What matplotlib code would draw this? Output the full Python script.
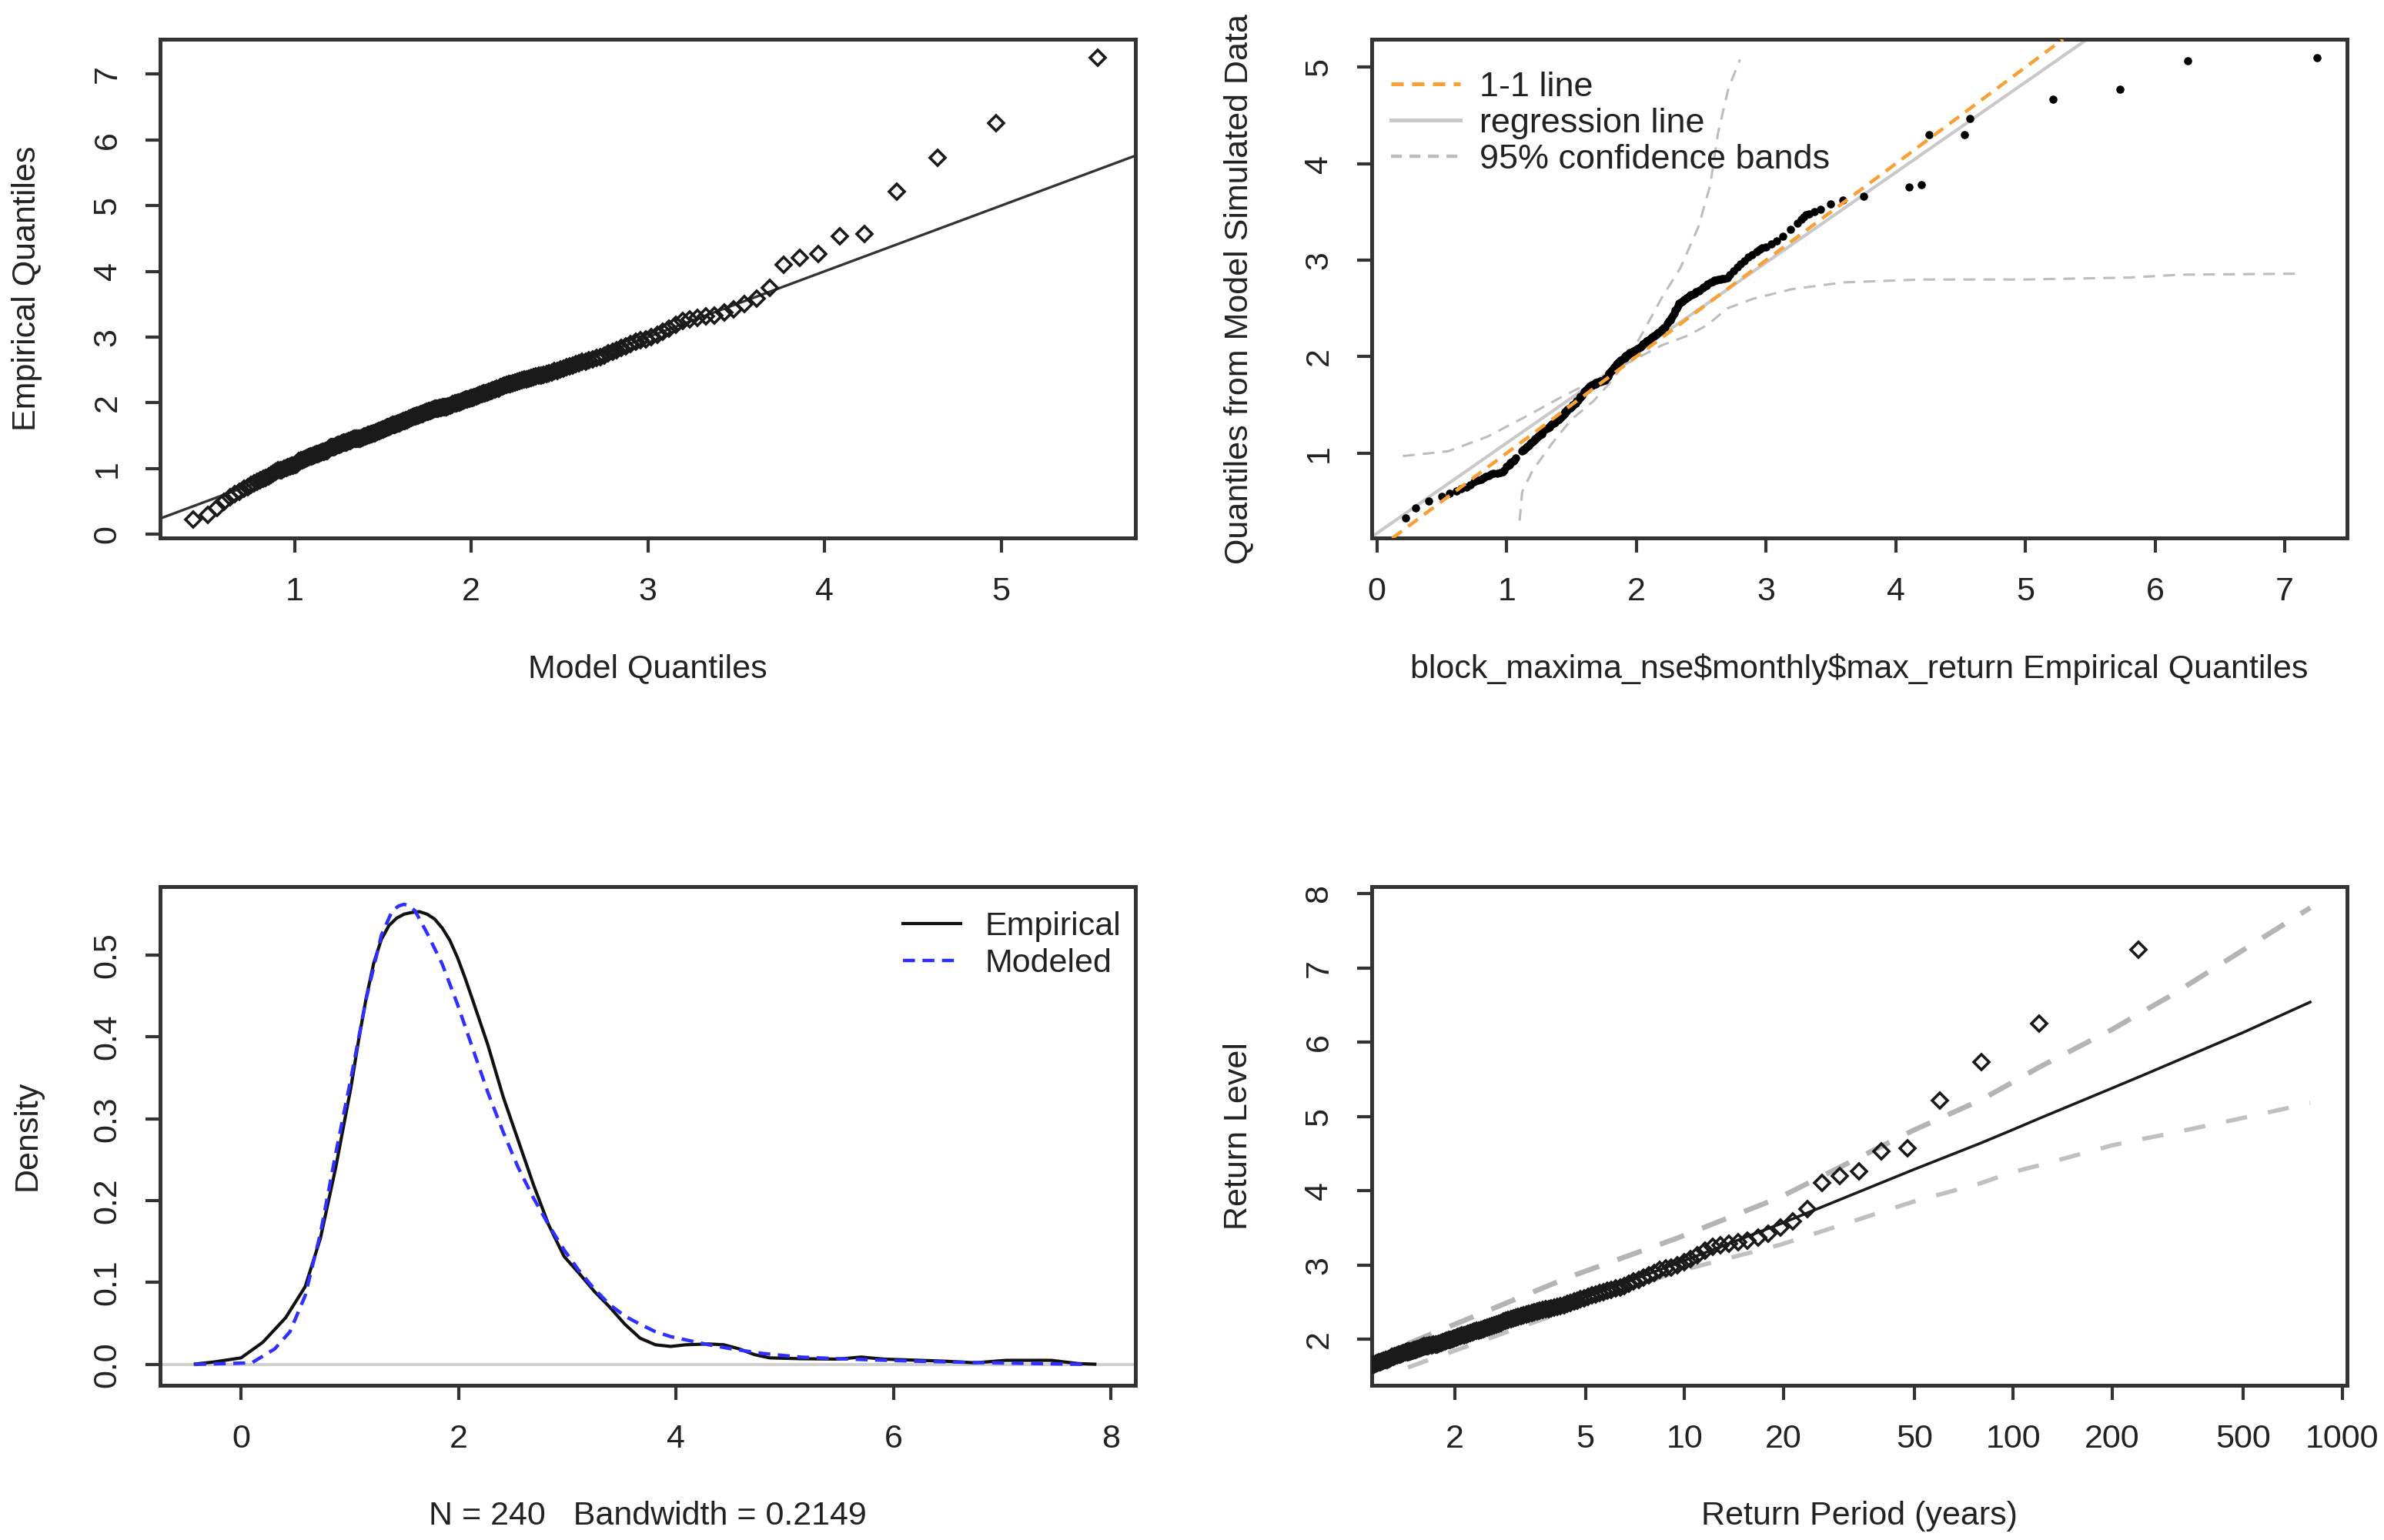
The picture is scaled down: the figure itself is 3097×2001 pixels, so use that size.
import matplotlib
matplotlib.use('Agg')
import matplotlib.pyplot as plt
from matplotlib.lines import Line2D
from matplotlib.ticker import FixedLocator, NullLocator, FixedFormatter

plt.rcParams['font.family'] = ['Liberation Sans', 'DejaVu Sans']
FS = 15.5
TXT = '#222222'
FRAME = '#333333'
PT = '#1a1a1a'

# ---------------- data ----------------
# model (GEV) quantiles, ranks 1..240
model_q = [
    0.428, 0.508, 0.561, 0.602, 0.635, 0.664, 0.690, 0.713, 0.735, 0.755,
    0.773, 0.790, 0.807, 0.823, 0.838, 0.852, 0.866, 0.880, 0.893, 0.905,
    0.917, 0.929, 0.941, 0.952, 0.963, 0.974, 0.985, 0.995, 1.005, 1.015,
    1.025, 1.035, 1.044, 1.054, 1.063, 1.072, 1.081, 1.090, 1.099, 1.108,
    1.117, 1.125, 1.134, 1.142, 1.150, 1.159, 1.167, 1.175, 1.183, 1.191,
    1.199, 1.207, 1.215, 1.223, 1.231, 1.239, 1.246, 1.254, 1.262, 1.269,
    1.277, 1.284, 1.292, 1.299, 1.307, 1.314, 1.322, 1.329, 1.337, 1.344,
    1.351, 1.359, 1.366, 1.373, 1.380, 1.388, 1.395, 1.402, 1.410, 1.417,
    1.424, 1.432, 1.439, 1.446, 1.453, 1.461, 1.468, 1.475, 1.483, 1.490,
    1.497, 1.504, 1.512, 1.519, 1.526, 1.534, 1.541, 1.548, 1.556, 1.563,
    1.570, 1.578, 1.585, 1.593, 1.600, 1.608, 1.615, 1.623, 1.630, 1.638,
    1.645, 1.653, 1.660, 1.668, 1.676, 1.684, 1.691, 1.699, 1.707, 1.715,
    1.723, 1.730, 1.738, 1.746, 1.754, 1.762, 1.770, 1.779, 1.787, 1.795,
    1.803, 1.812, 1.820, 1.828, 1.837, 1.845, 1.854, 1.862, 1.871, 1.880,
    1.889, 1.897, 1.906, 1.915, 1.924, 1.933, 1.943, 1.952, 1.961, 1.970,
    1.980, 1.989, 1.999, 2.009, 2.018, 2.028, 2.038, 2.048, 2.059, 2.069,
    2.079, 2.090, 2.100, 2.111, 2.122, 2.133, 2.144, 2.155, 2.166, 2.177,
    2.189, 2.200, 2.212, 2.224, 2.236, 2.249, 2.261, 2.274, 2.286, 2.299,
    2.312, 2.326, 2.339, 2.353, 2.367, 2.381, 2.395, 2.410, 2.425, 2.440,
    2.456, 2.472, 2.488, 2.504, 2.521, 2.538, 2.556, 2.573, 2.591, 2.610,
    2.629, 2.649, 2.668, 2.689, 2.710, 2.732, 2.754, 2.777, 2.800, 2.824,
    2.850, 2.875, 2.902, 2.930, 2.958, 2.988, 3.019, 3.052, 3.086, 3.121,
    3.158, 3.197, 3.239, 3.281, 3.328, 3.377, 3.431, 3.486, 3.548, 3.615,
    3.688, 3.769, 3.860, 3.965, 4.086, 4.228, 4.408, 4.639, 4.970, 5.545,
]

# empirical (sorted block maxima), ranks 1..240
emp = [
    0.22, 0.30, 0.40, 0.50, 0.56, 0.61, 0.65, 0.69, 0.72, 0.75,
    0.78, 0.80, 0.82, 0.84, 0.86, 0.88, 0.90, 0.93, 0.95, 0.97,
    0.97, 0.98, 1.00, 1.01, 1.02, 1.03, 1.04, 1.05, 1.06, 1.07,
    1.12, 1.13, 1.13, 1.14, 1.15, 1.16, 1.17, 1.18, 1.19, 1.20,
    1.21, 1.22, 1.22, 1.23, 1.24, 1.25, 1.26, 1.27, 1.27, 1.28,
    1.31, 1.32, 1.33, 1.33, 1.34, 1.35, 1.36, 1.36, 1.37, 1.38,
    1.39, 1.39, 1.40, 1.41, 1.42, 1.42, 1.43, 1.44, 1.45, 1.45,
    1.45, 1.45, 1.46, 1.46, 1.47, 1.48, 1.49, 1.49, 1.50, 1.51,
    1.51, 1.52, 1.53, 1.54, 1.54, 1.55, 1.56, 1.57, 1.57, 1.58,
    1.60, 1.60, 1.61, 1.62, 1.63, 1.63, 1.64, 1.65, 1.66, 1.66,
    1.67, 1.68, 1.69, 1.69, 1.70, 1.71, 1.72, 1.72, 1.73, 1.74,
    1.76, 1.76, 1.77, 1.78, 1.79, 1.79, 1.80, 1.81, 1.82, 1.83,
    1.83, 1.84, 1.85, 1.86, 1.86, 1.87, 1.88, 1.89, 1.90, 1.91,
    1.91, 1.91, 1.92, 1.92, 1.93, 1.93, 1.93, 1.94, 1.95, 1.96,
    1.97, 1.98, 1.99, 1.99, 2.00, 2.01, 2.02, 2.03, 2.04, 2.05,
    2.05, 2.06, 2.07, 2.08, 2.09, 2.10, 2.11, 2.12, 2.13, 2.14,
    2.15, 2.16, 2.17, 2.18, 2.19, 2.20, 2.21, 2.22, 2.24, 2.25,
    2.26, 2.27, 2.28, 2.29, 2.30, 2.31, 2.32, 2.33, 2.34, 2.35,
    2.36, 2.37, 2.38, 2.39, 2.40, 2.41, 2.42, 2.43, 2.44, 2.45,
    2.46, 2.48, 2.49, 2.51, 2.52, 2.54, 2.55, 2.57, 2.59, 2.60,
    2.62, 2.63, 2.65, 2.66, 2.68, 2.70, 2.72, 2.75, 2.78, 2.80,
    2.83, 2.86, 2.89, 2.93, 2.95, 2.97, 3.00, 3.04, 3.08, 3.13,
    3.19, 3.24, 3.27, 3.29, 3.31, 3.33, 3.37, 3.42, 3.50, 3.59,
    3.75, 4.10, 4.20, 4.26, 4.53, 4.57, 5.21, 5.73, 6.25, 7.25,
]

# quantiles of data simulated from the fitted model, ranks 1..240
sim_q = [
    0.33, 0.43, 0.50, 0.55, 0.58, 0.61, 0.63, 0.65, 0.67, 0.70,
    0.72, 0.73, 0.74, 0.76, 0.77, 0.78, 0.79, 0.79, 0.80, 0.81,
    0.81, 0.82, 0.86, 0.87, 0.88, 0.90, 0.91, 0.92, 0.93, 0.95,
    1.02, 1.03, 1.04, 1.05, 1.06, 1.07, 1.08, 1.10, 1.11, 1.12,
    1.13, 1.14, 1.15, 1.16, 1.17, 1.18, 1.19, 1.20, 1.21, 1.22,
    1.25, 1.26, 1.27, 1.28, 1.29, 1.30, 1.31, 1.31, 1.32, 1.33,
    1.34, 1.34, 1.35, 1.36, 1.37, 1.38, 1.39, 1.40, 1.41, 1.42,
    1.42, 1.43, 1.44, 1.44, 1.45, 1.46, 1.47, 1.47, 1.48, 1.49,
    1.50, 1.51, 1.52, 1.53, 1.54, 1.55, 1.57, 1.58, 1.59, 1.60,
    1.64, 1.64, 1.65, 1.66, 1.67, 1.68, 1.69, 1.70, 1.70, 1.71,
    1.71, 1.72, 1.72, 1.73, 1.73, 1.74, 1.74, 1.75, 1.75, 1.75,
    1.76, 1.77, 1.78, 1.80, 1.82, 1.83, 1.84, 1.86, 1.87, 1.89,
    1.89, 1.90, 1.92, 1.93, 1.94, 1.95, 1.96, 1.97, 1.98, 1.99,
    1.99, 2.00, 2.00, 2.01, 2.01, 2.02, 2.02, 2.03, 2.04, 2.04,
    2.05, 2.06, 2.06, 2.07, 2.07, 2.08, 2.09, 2.10, 2.11, 2.12,
    2.13, 2.14, 2.15, 2.16, 2.17, 2.18, 2.19, 2.20, 2.21, 2.22,
    2.23, 2.24, 2.25, 2.26, 2.27, 2.28, 2.30, 2.31, 2.35, 2.37,
    2.38, 2.40, 2.43, 2.45, 2.48, 2.50, 2.53, 2.55, 2.56, 2.57,
    2.58, 2.59, 2.60, 2.61, 2.62, 2.63, 2.64, 2.64, 2.65, 2.66,
    2.67, 2.68, 2.69, 2.71, 2.72, 2.74, 2.75, 2.77, 2.78, 2.79,
    2.79, 2.80, 2.80, 2.81, 2.81, 2.82, 2.85, 2.89, 2.93, 2.96,
    2.99, 3.03, 3.06, 3.09, 3.11, 3.13, 3.14, 3.17, 3.20, 3.25,
    3.32, 3.38, 3.42, 3.45, 3.47, 3.48, 3.50, 3.53, 3.58, 3.62,
    3.66, 3.76, 3.78, 4.30, 4.30, 4.47, 4.67, 4.77, 5.07, 5.10,
]

# return periods (years) of the empirical points with rank 99..240
rl_period = [
    1.124, 1.137, 1.150, 1.163, 1.176, 1.190, 1.204, 1.217, 1.232, 1.246,
    1.260, 1.275, 1.290, 1.305, 1.320, 1.336, 1.352, 1.368, 1.384, 1.400,
    1.417, 1.434, 1.451, 1.469, 1.487, 1.505, 1.523, 1.542, 1.561, 1.580,
    1.600, 1.620, 1.640, 1.661, 1.682, 1.704, 1.726, 1.748, 1.771, 1.794,
    1.817, 1.841, 1.866, 1.890, 1.916, 1.942, 1.968, 1.995, 2.023, 2.051,
    2.079, 2.109, 2.139, 2.170, 2.201, 2.233, 2.266, 2.299, 2.333, 2.369,
    2.404, 2.441, 2.479, 2.518, 2.558, 2.598, 2.639, 2.682, 2.726, 2.772,
    2.818, 2.865, 2.915, 2.965, 3.017, 3.070, 3.125, 3.182, 3.239, 3.300,
    3.362, 3.427, 3.493, 3.561, 3.632, 3.705, 3.782, 3.859, 3.942, 4.026,
    4.114, 4.205, 4.301, 4.399, 4.502, 4.610, 4.721, 4.838, 4.960, 5.089,
    5.222, 5.362, 5.510, 5.666, 5.828, 5.999, 6.180, 6.373, 6.575, 6.789,
    7.018, 7.262, 7.524, 7.800, 8.097, 8.418, 8.757, 9.132, 9.533, 9.970,
    10.45, 10.96, 11.55, 12.18, 12.89, 13.66, 14.56, 15.55, 16.72, 18.02,
    19.57, 21.41, 23.60, 26.27, 29.62, 33.93, 39.66, 47.70, 59.75, 79.83,
    120.0, 240.5,
]

# QQ reference line (top-left)
qq_intercept, qq_slope = 0.0, 1.0
# top-right lines
one_to_one = (0.0, 1.0)
reg_intercept, reg_slope = 0.17, 0.935
band_a_x = [1.10, 1.12, 1.20, 1.35, 1.50, 1.67, 1.79, 1.92, 2.05, 2.20, 2.34, 2.48, 2.57, 2.63, 2.71, 2.80]
band_a_y = [0.30, 0.60, 0.82, 1.10, 1.35, 1.54, 1.72, 1.95, 2.25, 2.62, 2.92, 3.35, 3.78, 4.32, 4.78, 5.08]
band_b_x = [0.20, 0.55, 0.85, 1.15, 1.42, 1.70, 1.97, 2.20, 2.40, 2.55, 2.70, 2.90, 3.20, 3.60, 4.20, 5.00, 5.80, 6.20, 7.10]
band_b_y = [0.97, 1.02, 1.17, 1.38, 1.58, 1.77, 1.96, 2.12, 2.22, 2.33, 2.50, 2.60, 2.70, 2.77, 2.80, 2.80, 2.82, 2.85, 2.86]

# density curves (bottom-left)
dens_emp_x = [-0.42, -0.25, 0.0, 0.2, 0.41, 0.59, 0.73, 0.87, 1.01, 1.08, 1.15, 1.22, 1.29,
              1.36, 1.43, 1.50, 1.57, 1.64, 1.71, 1.78, 1.85, 1.92, 1.99, 2.06, 2.13, 2.27,
              2.41, 2.55, 2.69, 2.83, 2.97, 3.11, 3.25, 3.39, 3.53, 3.67, 3.81, 3.95, 4.09,
              4.30, 4.44, 4.58, 4.72, 4.86, 5.14, 5.49, 5.70, 5.91, 6.47, 6.75, 7.03, 7.45,
              7.70, 7.85]
dens_emp_y = [0.0005, 0.003, 0.008, 0.027, 0.057, 0.095, 0.154, 0.240, 0.338, 0.395, 0.447,
              0.490, 0.519, 0.536, 0.545, 0.550, 0.552, 0.553, 0.550, 0.544, 0.533, 0.518,
              0.497, 0.472, 0.445, 0.390, 0.327, 0.273, 0.219, 0.170, 0.132, 0.111, 0.089,
              0.070, 0.049, 0.032, 0.024, 0.022, 0.024, 0.025, 0.024, 0.019, 0.012, 0.008,
              0.007, 0.0065, 0.009, 0.0065, 0.004, 0.002, 0.005, 0.005, 0.001, 0.0003]
dens_mod_x = [-0.43, 0.10, 0.31, 0.45, 0.59, 0.73, 0.87, 1.01, 1.15, 1.29, 1.39, 1.45, 1.50,
              1.55, 1.60, 1.71, 1.85, 1.99, 2.13, 2.27, 2.41, 2.55, 2.69, 2.83, 2.97, 3.11,
              3.25, 3.39, 3.53, 3.67, 3.81, 3.95, 4.09, 4.30, 4.51, 4.79, 5.14, 5.49, 5.84,
              6.19, 6.89, 7.80]
dens_mod_y = [0.0, 0.002, 0.019, 0.040, 0.084, 0.160, 0.257, 0.349, 0.446, 0.524, 0.554,
              0.560, 0.562, 0.560, 0.554, 0.527, 0.489, 0.440, 0.386, 0.332, 0.284, 0.240,
              0.203, 0.170, 0.140, 0.114, 0.092, 0.073, 0.059, 0.049, 0.040, 0.034, 0.030,
              0.024, 0.019, 0.0135, 0.009, 0.007, 0.0054, 0.004, 0.002, 0.0]

# return level curve and 95% CI (bottom-right)
rl_line_x = [1.443, 4.481, 9.491, 19.50, 49.50, 79.50, 99.50, 119.5, 199.5, 249.5, 299.5, 499.5, 799.5]
rl_line_y = [1.72, 2.49, 3.02, 3.55, 4.28, 4.64, 4.82, 4.97, 5.38, 5.56, 5.71, 6.13, 6.54]
rl_upper_y = [1.94, 2.84, 3.36, 3.91, 4.81, 5.22, 5.46, 5.66, 6.17, 6.42, 6.62, 7.24, 7.81]
rl_lower_y = [1.62, 2.40, 2.91, 3.27, 3.85, 4.10, 4.25, 4.34, 4.61, 4.70, 4.77, 4.98, 5.18]

# ---------------- figure ----------------
fig = plt.figure(figsize=(3097 / 200, 2001 / 200), dpi=200)
W, H = 0.4091, 0.3240
ax1 = fig.add_axes([0.0672, 0.6505, W, H])
ax2 = fig.add_axes([0.5754, 0.6505, W, H])
ax3 = fig.add_axes([0.0672, 0.1005, W, H])
ax4 = fig.add_axes([0.5754, 0.1005, W, H])


def style(ax, xlabel, ylabel):
    for sp in ax.spines.values():
        sp.set_linewidth(1.8)
        sp.set_color(FRAME)
    ax.tick_params(direction='out', length=7, width=1.5, color=FRAME,
                   labelsize=FS, labelcolor=TXT)
    ax.tick_params(axis='x', pad=11)
    ax.tick_params(axis='y', pad=10.5, labelrotation=90)
    for lab in ax.get_yticklabels():
        lab.set_va('center')
    ax.set_xlabel(xlabel, fontsize=FS, color=TXT)
    ax.xaxis.set_label_coords(0.5, -170 / 648)
    ax.xaxis.label.set_va('center')
    ax.set_ylabel(ylabel, fontsize=FS, color=TXT)
    ax.yaxis.set_label_coords(-173 / 1267, 0.5)
    ax.yaxis.label.set_va('center')


# --- top-left: QQ plot ---
ax1.axline((0, qq_intercept), slope=qq_slope, color=FRAME, lw=1.2, zorder=2)
ax1.plot(model_q, emp, ls='none', marker='D', ms=5.2, mfc='none', mec=PT, mew=1.3, zorder=3)
ax1.set_xlim(0.24, 5.76)
ax1.set_ylim(-0.06, 7.53)
ax1.set_xticks([1, 2, 3, 4, 5])
ax1.set_yticks([0, 1, 2, 3, 4, 5, 6, 7])
style(ax1, 'Model Quantiles', 'Empirical Quantiles')

# --- top-right: QQ plot of simulated data ---
ORANGE = '#F9A035'
GREY_REG = '#C9C9C9'
GREY_CI = '#BDBDBD'
ax2.axline((0, reg_intercept), slope=reg_slope, color=GREY_REG, lw=1.5, zorder=1)
ax2.plot(band_a_x, band_a_y, color=GREY_CI, lw=1.1, ls=(0, (5, 3.5)), zorder=1)
ax2.plot(band_b_x, band_b_y, color=GREY_CI, lw=1.1, ls=(0, (5, 3.5)), zorder=1)
ax2.plot(emp, sim_q, ls='none', marker='o', ms=3.8, color='black', mew=0, zorder=3)
ax2.axline((0, one_to_one[0]), slope=one_to_one[1], color=ORANGE, lw=1.6,
           ls=(0, (3.5, 2.3)), zorder=4)
ax2.set_xlim(-0.04, 7.48)
ax2.set_ylim(0.118, 5.29)
ax2.set_xticks([0, 1, 2, 3, 4, 5, 6, 7])
ax2.set_yticks([1, 2, 3, 4, 5])
style(ax2, r'block_maxima_nse\$monthly\$max_return Empirical Quantiles',
      'Quantiles from Model Simulated Data')
h_leg = [Line2D([], [], color=ORANGE, lw=1.8, ls=(0, (3.2, 2.2))),
         Line2D([], [], color=GREY_REG, lw=1.8),
         Line2D([], [], color=GREY_CI, lw=1.6, ls=(0, (3.2, 2.2)))]
ax2.legend(h_leg, ['1-1 line', 'regression line', '95% confidence bands'],
           loc='upper left', bbox_to_anchor=(0.02, 0.935), frameon=False,
           fontsize=16.2, handlelength=2.0, handletextpad=0.55, labelspacing=0.13,
           borderpad=0, borderaxespad=0, labelcolor=TXT)

# --- bottom-left: density ---
ax3.axhline(0, color='#CFCFCF', lw=1.4, zorder=1)
ax3.plot(dens_emp_x, dens_emp_y, color='#111111', lw=1.5, zorder=3, label='Empirical')
ax3.plot(dens_mod_x, dens_mod_y, color='#2F2FFF', lw=1.6, ls=(0, (3.5, 2.2)),
         zorder=4, label='Modeled')
ax3.set_xlim(-0.743, 8.224)
ax3.set_ylim(-0.0254, 0.584)
ax3.set_xticks([0, 2, 4, 6, 8])
ax3.set_yticks([0.0, 0.1, 0.2, 0.3, 0.4, 0.5])
ax3.set_yticklabels(['0.0', '0.1', '0.2', '0.3', '0.4', '0.5'])
style(ax3, 'N = 240   Bandwidth = 0.2149', 'Density')
ax3.legend(loc='upper right', bbox_to_anchor=(0.985, 0.950), frameon=False,
           fontsize=FS, handlelength=1.75, handletextpad=0.72, labelspacing=0.19,
           borderpad=0, borderaxespad=0, labelcolor=TXT)

# --- bottom-right: return level plot ---
ax4.set_xscale('log')
ax4.plot(rl_line_x, rl_upper_y, color='#B4B4B4', lw=2.4, ls=(0, (5, 3.8)), zorder=1)
ax4.plot(rl_line_x, rl_lower_y, color='#C0C0C0', lw=2.0, ls=(0, (5, 5)), zorder=1)
ax4.plot(rl_line_x, rl_line_y, color='#1a1a1a', lw=1.3, zorder=2)
ax4.plot(rl_period, emp[len(emp) - len(rl_period):], ls='none', marker='D', ms=5.2,
         mfc='none', mec=PT, mew=1.3, zorder=3)
ax4.set_xlim(1.12, 1035)
ax4.set_ylim(1.38, 8.10)
rp_ticks = [2, 5, 10, 20, 50, 100, 200, 500, 1000]
ax4.xaxis.set_major_locator(FixedLocator(rp_ticks))
ax4.xaxis.set_major_formatter(FixedFormatter([str(t) for t in rp_ticks]))
ax4.xaxis.set_minor_locator(NullLocator())
ax4.set_yticks([2, 3, 4, 5, 6, 7, 8])
style(ax4, 'Return Period (years)', 'Return Level')

fig.savefig('out.png', dpi=200, facecolor='white')
